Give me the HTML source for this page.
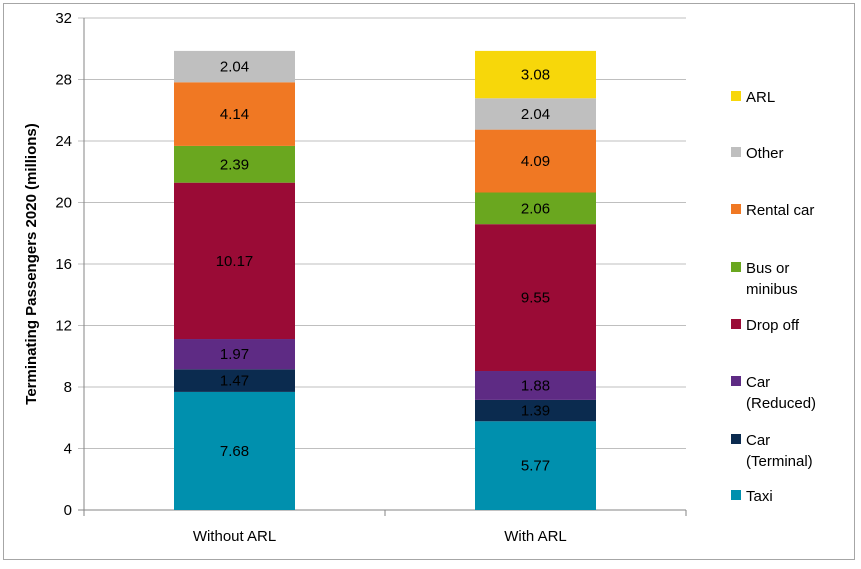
<!DOCTYPE html>
<html><head><meta charset="utf-8"><style>
body{margin:0;background:#fff}
svg text{font-family:"Liberation Sans",sans-serif}
</style></head><body>
<svg id="c" width="861" height="564" xmlns="http://www.w3.org/2000/svg">
<rect x="3.5" y="3.5" width="851" height="556" fill="#fff" stroke="#a6a6a6"/>
<g id="grid"></g><g id="bars"></g><g id="legend"></g>
<text transform="translate(36,264) rotate(-90)" text-anchor="middle" font-size="15" font-weight="bold" fill="#000">Terminating Passengers 2020 (millions)</text>
</svg>
<script>
const categories=["Without ARL","With ARL"];
const seriesNames=["Taxi","Car (Terminal)","Car (Reduced)","Drop off","Bus or minibus","Rental car","Other","ARL"];
const seriesColors=["#0090ae","#0b2b4f","#5e2b84","#9a0b36","#6aa71f","#f07823","#bfbfbf","#f7d70a"];
const taxi=[7.68,5.77];
const carTerminal=[1.47,1.39];
const carReduced=[1.97,1.88];
const dropOff=[10.17,9.55];
const bus=[2.39,2.06];
const rental=[4.14,4.09];
const other=[2.04,2.04];
const arl=[0,3.08];
const yTicks=[0,4,8,12,16,20,24,28,32];
const series=[taxi,carTerminal,carReduced,dropOff,bus,rental,other,arl];
const NS="http://www.w3.org/2000/svg";
const x0=84,x1=686,yTop=18,yBot=510;
const y=v=>yBot-(v/32)*(yBot-yTop);
const bandW=(x1-x0)/categories.length, barW=121;
function mk(t,a,p){const e=document.createElementNS(NS,t);for(const k in a)e.setAttribute(k,a[k]);p.appendChild(e);return e;}
const grid=document.getElementById('grid');
yTicks.forEach(t=>{
 const l=mk('line',{x1:x0-6,x2:x1,y1:y(t),y2:y(t),stroke:t===0?'#868686':'#bfbfbf'},grid);
 
 
 const tx=mk('text',{x:x0-12,y:y(t)+5,'text-anchor':'end','font-size':15},grid);tx.textContent=t;
 
 
});
const ax=mk('line',{x1:x0,x2:x0,y1:yTop,y2:yBot+6,stroke:'#868686'},grid);


[0,1,2].forEach(i=>{const tk=mk('line',{x1:x0+i*bandW,x2:x0+i*bandW,y1:yBot,y2:yBot+6,stroke:'#868686'},grid);
 
 });
const bars=document.getElementById('bars');
categories.forEach((c,ci)=>{
 const cx=x0+bandW*(ci+0.5);let acc=0;
 series.forEach((s,si)=>{
  const v=s[ci];if(!v)return;
  const r=mk('rect',{x:cx-barW/2,y:y(acc+v),width:barW,height:y(acc)-y(acc+v),fill:seriesColors[si]},bars);
  
  
  const t=mk('text',{x:cx,y:(y(acc)+y(acc+v))/2+5,'text-anchor':'middle','font-size':15,fill:'#000'},bars);
  t.textContent=v.toFixed(2);
  
  
  acc+=v;
 });
 const l=mk('text',{x:cx,y:541,'text-anchor':'middle','font-size':15},bars);l.textContent=c;
 
 
});
const legend=document.getElementById('legend');
const ly=[496,440,382,325,268,210,153,97];
seriesNames.forEach((n,i)=>{
 const g=mk('g',{},legend);
 
 
 mk('rect',{x:731,y:ly[i]-6,width:10,height:10,fill:seriesColors[i]},g);
 const words=n==="Bus or minibus"?["Bus or","minibus"]:n.startsWith("Car ")?["Car",n.slice(4)]:[n];
 words.forEach((w,k)=>{const t=mk('text',{x:746,y:ly[i]+5+k*21,'font-size':15},g);t.textContent=w;});
});
</script>
</body></html>
